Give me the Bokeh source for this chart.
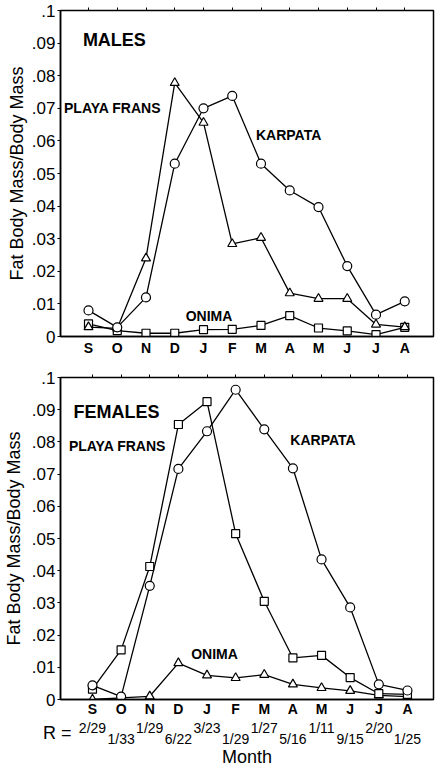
from bokeh.plotting import figure
from bokeh.layouts import column
from bokeh.models import FixedTicker, LinearAxis, Range1d, Label, CustomJSTickFormatter
from bokeh.core.properties import value
from bokeh.embed import file_html
from bokeh.resources import INLINE

months = ["S", "O", "N", "D", "J", "F", "M", "A", "M", "J", "J", "A"]
month_idx = list(range(len(months)))

# Males
males_karpata = [0.008, 0.0028, 0.012, 0.053, 0.070, 0.0738, 0.053, 0.0448, 0.0397, 0.0216, 0.0067, 0.0108]
males_playa = [0.0029, 0.0025, 0.024, 0.0778, 0.0656, 0.0284, 0.0303, 0.0133, 0.0116, 0.0116, 0.0037, 0.0029]
males_onima = [0.0039, 0.0018, 0.0010, 0.0010, 0.0021, 0.0022, 0.0034, 0.0064, 0.0026, 0.0017, 0.0006, 0.0028]

# Females
females_karpata = [0.0044, 0.0009, 0.0353, 0.0716, 0.0833, 0.0962, 0.0839, 0.0718, 0.0435, 0.0286, 0.0047, 0.0028]
females_playa = [0.0032, 0.0154, 0.0413, 0.0854, 0.0925, 0.0515, 0.0305, 0.0129, 0.0137, 0.0068, 0.0018, 0.0016]
females_onima = [0.0, 0.0005, 0.001, 0.0113, 0.0075, 0.0067, 0.0077, 0.0047, 0.0036, 0.0027, 0.0013, 0.0009]

r_values = ["2/29", "1/33", "1/29", "6/22", "3/23", "1/29", "1/27", "5/16", "1/11", "9/15", "2/20", "1/25"]
y_ticks = [0, 0.01, 0.02, 0.03, 0.04, 0.05, 0.06, 0.07, 0.08, 0.09, 0.1]

FONT = "Liberation Sans"

fmt = CustomJSTickFormatter(code="""
if (Math.abs(tick) < 1e-9) { return "0"; }
var s = tick.toFixed(2).replace(/^0/, "");
if (s.endsWith("0")) { s = s.slice(0, -1); }
return s;
""")


def make_panel(height, x_start, x_end, border_left, border_top, border_bottom, label_standoff, month_standoff):
    p = figure(width=435, height=height, output_backend="svg", toolbar_location=None,
               x_range=Range1d(x_start, x_end), y_range=Range1d(0, 0.1),
               min_border_left=border_left, min_border_right=2,
               min_border_top=border_top, min_border_bottom=border_bottom,
               x_axis_location=None, y_axis_location=None)
    p.background_fill_color = "white"
    p.border_fill_color = "white"
    p.xgrid.visible = False
    p.ygrid.visible = False
    p.outline_line_color = "black"
    p.outline_line_width = 1.5

    yaxis = LinearAxis(ticker=FixedTicker(ticks=y_ticks), formatter=fmt,
                       axis_label="Fat Body Mass/Body Mass",
                       axis_label_text_font=FONT, axis_label_text_font_size="18px",
                       axis_label_text_font_style="normal", axis_label_standoff=label_standoff,
                       axis_label_text_color="black",
                       major_label_text_font=FONT, major_label_text_font_size="17px",
                       major_label_text_color="black",
                       major_label_standoff=2, major_tick_out=3, major_tick_in=0,
                       minor_tick_out=0, minor_tick_in=0,
                       axis_line_color="black", axis_line_width=1.5,
                       major_tick_line_color="black")
    p.add_layout(yaxis, "left")

    xaxis = LinearAxis(ticker=FixedTicker(ticks=month_idx),
                       major_label_overrides={i: m for i, m in enumerate(months)},
                       major_label_text_font=FONT, major_label_text_font_size="14px",
                       major_label_text_font_style="bold", major_label_text_color="black",
                       major_label_standoff=month_standoff, major_tick_out=0, major_tick_in=0,
                       minor_tick_out=0, minor_tick_in=0,
                       axis_line_color="black", axis_line_width=1.5)
    p.add_layout(xaxis, "below")

    top = LinearAxis(ticker=FixedTicker(ticks=month_idx),
                     major_label_text_font_size="0px", major_label_standoff=0,
                     major_label_overrides={i: "" for i in month_idx},
                     major_tick_out=3, major_tick_in=0, minor_tick_out=0, minor_tick_in=0,
                     axis_line_color=None, major_tick_line_color="black")
    p.add_layout(top, "above")
    return p


def add_series(p, ys, marker, size):
    p.line(month_idx, ys, line_color="black", line_width=1.3)
    p.scatter(month_idx, ys, marker=marker, size=size, fill_color="white",
              line_color="black", line_width=1.2)


def add_label(p, x, y, text, size="14px", bold=True):
    p.add_layout(Label(x=x, y=y, text=text, text_font=FONT, text_font_size=size,
                       text_font_style="bold" if bold else "normal",
                       text_align="center", text_baseline="middle", text_color="black"))


# Top panel (males) -- frames of the column are aligned at x = 60
p1 = make_panel(362, -0.974, 12.0, 60, 10, 26, 2, 3)
add_series(p1, males_onima, "square", 8)
add_series(p1, males_playa, "triangle", 9)
add_series(p1, males_karpata, "circle", 9)
add_label(p1, 0.90, 0.0908, "MALES", "18px")
add_label(p1, 0.835, 0.0702, "PLAYA FRANS")
add_label(p1, 6.96, 0.0617, "KARPATA")
add_label(p1, 4.19, 0.0064, "ONIMA")

# Bottom panel (females)
p2 = make_panel(357, -1.117, 11.91, 60, 15, 18, 5, 1)
add_series(p2, females_onima, "triangle", 9)
add_series(p2, females_playa, "square", 8)
add_series(p2, females_karpata, "circle", 9)
add_label(p2, 0.84, 0.0892, "FEMALES", "18px")
add_label(p2, 0.87, 0.0787, "PLAYA FRANS")
add_label(p2, 8.05, 0.0806, "KARPATA")
add_label(p2, 4.26, 0.0142, "ONIMA")

# Row of R ratios and the x-axis title
p3 = figure(width=435, height=50, output_backend="svg", toolbar_location=None,
            x_range=Range1d(-1.117, 11.91), y_range=Range1d(28, 0),
            min_border_left=60, min_border_right=2, min_border_top=0, min_border_bottom=22,
            x_axis_location=None, y_axis_location=None)
p3.outline_line_color = None
p3.xgrid.visible = False
p3.ygrid.visible = False
p3.background_fill_color = "white"
p3.border_fill_color = "white"

r_axis = LinearAxis(ticker=FixedTicker(ticks=[]), axis_label="R =",
                    axis_label_orientation="horizontal",
                    axis_label_text_font=FONT, axis_label_text_font_size="18px",
                    axis_label_text_font_style="normal", axis_label_text_color="black",
                    axis_label_standoff=-11, axis_line_color=None,
                    major_label_text_font_size="0px", major_label_standoff=0,
                    major_tick_out=0, major_tick_in=0, minor_tick_out=0, minor_tick_in=0)
p3.add_layout(r_axis, "left")

m_axis = LinearAxis(ticker=FixedTicker(ticks=[]), axis_label="Month",
                    axis_label_text_font=FONT, axis_label_text_font_size="18px",
                    axis_label_text_font_style="normal", axis_label_text_color="black",
                    axis_label_standoff=0, axis_line_color=None,
                    major_label_text_font_size="0px", major_label_standoff=0,
                    major_tick_out=0, major_tick_in=0, minor_tick_out=0, minor_tick_in=0)
p3.add_layout(m_axis, "below")

r_y = [8.7 if i % 2 == 0 else 20.0 for i in month_idx]
p3.text(x=month_idx, y=r_y, text=r_values, text_font=value(FONT), text_font_size="14px",
        text_align="center", text_baseline="middle", text_color="black")

layout = column(p1, p2, p3, spacing=0)
open("out.html", "w").write(file_html(layout, INLINE))
